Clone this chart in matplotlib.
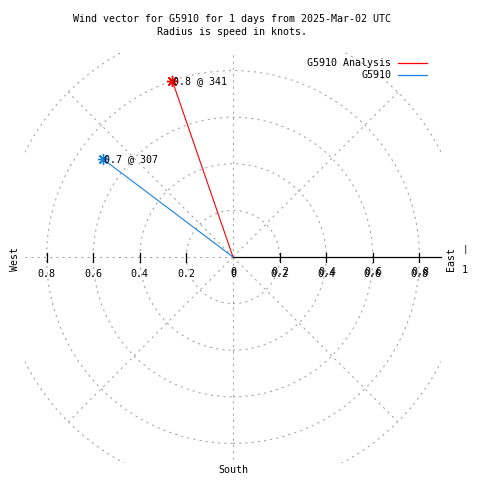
"""
Wind vector polar plot (gnuplot style) for G5910
"""
import numpy as np
import matplotlib
matplotlib.use('Agg')
import matplotlib.pyplot as plt
from matplotlib.patches import Circle

# Data
series = ['G5910 Analysis', 'G5910']
speeds = [0.8, 0.7]          # knots
directions = [341, 307]      # degrees, compass
colors = ['#ff0000', '#1a80e0']

rings = [0.2, 0.4, 0.6, 0.8, 1.0]
spokes = [45, 90, 135, 180, 225, 270, 315]
ticks = [0.2, 0.4, 0.6, 0.8]

W = 480
S = 233.0   # pixels per knot

plt.rcParams['font.family'] = 'DejaVu Sans Mono'
fs = 7.2
grey = '#a0a0a0'
dots = (0, (2, 4))

fig = plt.figure(figsize=(4.8, 4.8), dpi=100)
ax = fig.add_axes([25 / W, 17 / W, 416 / W, 411 / W])
ax.set_xlim(-208 / S, 208 / S)
ax.set_ylim(-206 / S, 205 / S)
ax.axis('off')

# Polar grid
for r in rings:
    ax.add_patch(Circle((0, 0), r, fill=False, ec=grey, lw=0.75, ls=dots))
for a in spokes:
    t = np.radians(a)
    ax.plot([0, np.cos(t)], [0, np.sin(t)], color=grey, lw=0.75, ls=dots)

# East axis solid, ticks on both sides
ax.plot([0, 208 / S], [0, 0], color='black', lw=0.9, clip_on=False)
for t in ticks:
    for sx in (-1, 1):
        ax.plot([sx * t, sx * t], [4 / S, -5 / S], color='black', lw=0.9)
        ax.text(sx * t, -17 / S, f'{t:.1f}', ha='center', va='center', fontsize=fs, clip_on=False)
        if sx == 1:
            ax.text(t + 1 / S, -15 / S, f'{t:.1f}', ha='center', va='center', fontsize=fs, clip_on=False)
ax.text(0, -15 / S, '0', ha='center', va='center', fontsize=fs, clip_on=False)
ax.text(0, -17 / S, '0', ha='center', va='center', fontsize=fs, clip_on=False)

# Wind vectors
for name, spd, d, c in zip(series, speeds, directions, colors):
    th = np.radians(90 - d)
    x, y = spd * np.cos(th), spd * np.sin(th)
    ax.plot([0, x], [0, y], color=c, lw=0.8)
    ax.plot([x], [y], marker=(8, 2, 0), ms=8, mec=c, mew=1.0, color=c)
    ax.text(x + 1 / S, y, f'{spd:.1f} @ {d}', ha='left', va='center', fontsize=fs)

# Legend
for i, (name, c) in enumerate(zip(series, colors)):
    yy = 1 - (63 + 12 * i) / W
    fig.text(391 / W, yy, name, ha='right', va='center', fontsize=fs)
    fig.add_artist(plt.Line2D([398 / W, 427 / W], [yy, yy], color=c, lw=0.9))

# Titles and compass labels
fig.text(232 / W, 1 - 19 / W, 'Wind vector for G5910 for 1 days from 2025-Mar-02 UTC',
         ha='center', va='center', fontsize=fs)
fig.text(232 / W, 1 - 32 / W, 'Radius is speed in knots.', ha='center', va='center', fontsize=fs)
fig.text(15 / W, 1 - 259 / W, 'West', rotation=90, ha='center', va='center', fontsize=fs)
fig.text(451 / W, 1 - 259 / W, 'East', rotation=90, ha='center', va='center', fontsize=fs)
fig.text(465 / W, 1 - 249 / W, '|', ha='center', va='center', fontsize=6.5)
fig.text(465 / W, 1 - 270 / W, '1', ha='center', va='center', fontsize=fs)
fig.text(233 / W, 1 - 470 / W, 'South', ha='center', va='center', fontsize=fs)

fig.savefig('out.png', dpi=100, facecolor='white')
